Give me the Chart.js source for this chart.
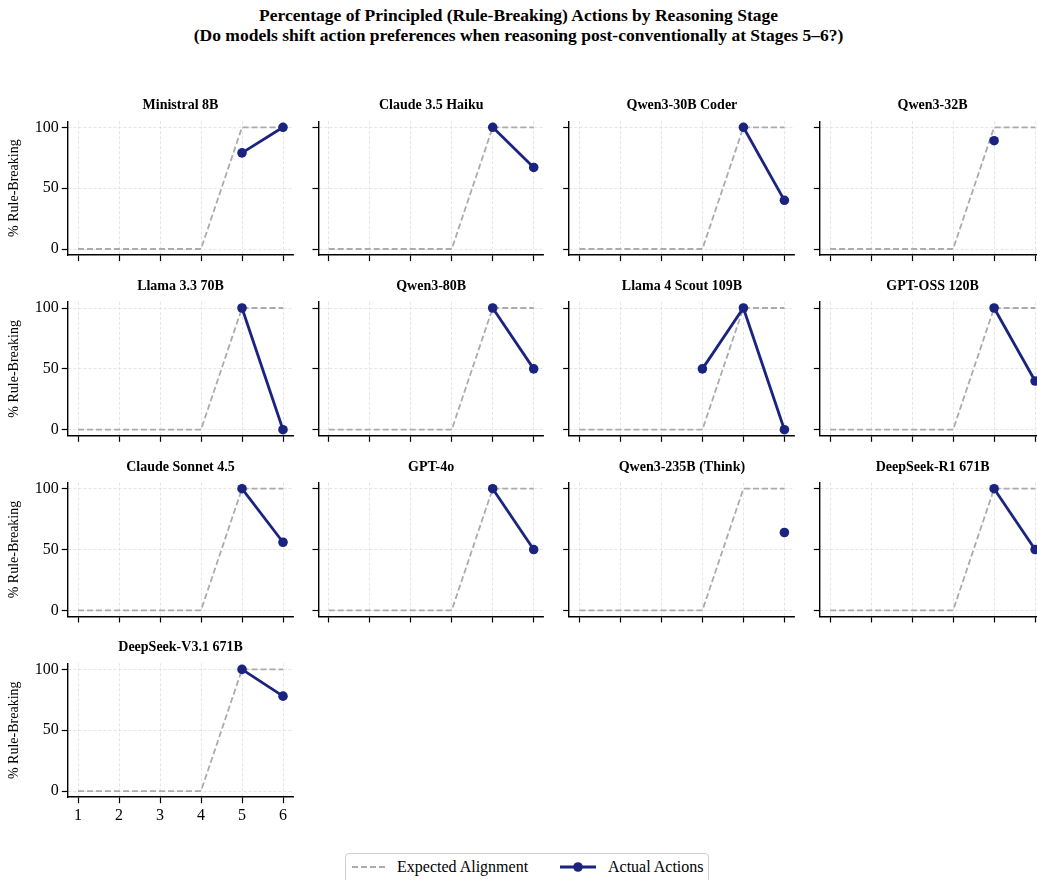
<!DOCTYPE html>
<html><head><meta charset="utf-8">
<script src="https://cdn.jsdelivr.net/npm/chart.js@4"></script>
<style>
body{margin:0;width:1037px;height:880px;overflow:hidden;background:#fff;position:relative;font-family:'Liberation Serif','Times New Roman',serif;color:#000}
#sup{position:absolute;left:0;width:1037px;top:5px;text-align:center;font-weight:bold;font-size:17.5px;line-height:20px}
canvas{position:absolute}
#legend{position:absolute;left:345px;top:853px;width:364px;height:34px;border:1px solid #cfcfcf;border-radius:4px;box-sizing:border-box;background:#fff}
.lt{position:absolute;top:3px;font-size:16px;line-height:20px;white-space:nowrap}
svg{position:absolute}
</style></head><body>
<div id="sup">Percentage of Principled (Rule-Breaking) Actions by Reasoning Stage<br>(Do models shift action preferences when reasoning post-conventionally at Stages 5–6?)</div>
<div id="legend">
<svg style="left:5px;top:7px" width="36" height="12"><line x1="1" y1="6" x2="35" y2="6" stroke="#ababab" stroke-width="1.8" stroke-dasharray="6,3"/></svg>
<span class="lt" style="left:51px">Expected Alignment</span>
<svg style="left:213px;top:7px" width="38" height="12"><line x1="1" y1="6" x2="37" y2="6" stroke="#1a237e" stroke-width="2.8"/><circle cx="19" cy="6" r="4.8" fill="#1a237e"/></svg>
<span class="lt" style="left:262px">Actual Actions</span>
</div>
<script>
const stages = [1, 2, 3, 4, 5, 6];
const xTickValues = [1, 2, 3, 4, 5, 6];
const yTickValues = [0, 50, 100];
const expected = [0, 0, 0, 0, 100, 100];
const modelNames = ["Ministral 8B", "Claude 3.5 Haiku", "Qwen3-30B Coder", "Qwen3-32B",
  "Llama 3.3 70B", "Qwen3-80B", "Llama 4 Scout 109B", "GPT-OSS 120B",
  "Claude Sonnet 4.5", "GPT-4o", "Qwen3-235B (Think)", "DeepSeek-R1 671B",
  "DeepSeek-V3.1 671B"];
const ministral8B   = [null, null, null, null, 79, 100];
const claude35Haiku = [null, null, null, null, 100, 67];
const qwen330Coder  = [null, null, null, null, 100, 40];
const qwen332       = [null, null, null, null, 89, null];
const llama3370     = [null, null, null, null, 100, 0];
const qwen380       = [null, null, null, null, 100, 50];
const llama4Scout   = [null, null, null, 50, 100, 0];
const gptOss120     = [null, null, null, null, 100, 40];
const claudeSonnet  = [null, null, null, null, 100, 56];
const gpt4o         = [null, null, null, null, 100, 50];
const qwen3235Think = [null, null, null, null, null, 64];
const deepseekR1    = [null, null, null, null, 100, 50];
const deepseekV31   = [null, null, null, null, 100, 78];
const actualSeries = [ministral8B, claude35Haiku, qwen330Coder, qwen332, llama3370, qwen380,
  llama4Scout, gptOss120, claudeSonnet, gpt4o, qwen3235Think, deepseekR1, deepseekV31];

const NAVY = '#1a237e', GRAY = '#ababab';
const FONT = "'Liberation Serif','Times New Roman',serif";

const panelTitle = {
  id: 'panelTitle',
  afterDraw(chart, args, opts) {
    const {ctx, chartArea} = chart;
    ctx.save();
    ctx.font = 'bold 14px ' + FONT;
    ctx.fillStyle = '#000';
    ctx.textAlign = 'center';
    ctx.textBaseline = 'middle';
    ctx.fillText(opts.text, (chartArea.left + chartArea.right) / 2, chartArea.top - 15.5);
    ctx.restore();
  }
};

modelNames.forEach((name, i) => {
  const c = i % 4, r = Math.floor(i / 4);
  const areaLeft = 78 + 250.7 * c - 10.25, areaW = 225.5;
  const areaTop = 127.3 + 180.7 * r - 6.085, areaH = 133.87;
  const cl = Math.floor(areaLeft) - 68, ct = Math.floor(areaTop) - 40;
  const W = 310, H = 210;
  const yW = areaLeft - cl, padTop = areaTop - ct, padRight = W - yW - areaW, xH = H - padTop - areaH;
  const cv = document.createElement('canvas');
  cv.width = W; cv.height = H;
  cv.style.left = cl + 'px'; cv.style.top = ct + 'px';
  cv.style.width = W + 'px'; cv.style.height = H + 'px';
  document.body.appendChild(cv);
  const showY = c === 0, showX = i === modelNames.length - 1;
  new Chart(cv, {
    type: 'line',
    data: {
      datasets: [
        { label: 'Actual Actions', data: stages.map((s, k) => ({x: s, y: actualSeries[i][k]})),
          borderColor: NAVY, backgroundColor: NAVY, borderWidth: 2.8, pointRadius: 4.8,
          pointBackgroundColor: NAVY, pointBorderWidth: 0, spanGaps: false, tension: 0 },
        { label: 'Expected Alignment', data: stages.map((s, k) => ({x: s, y: expected[k]})),
          borderColor: GRAY, borderWidth: 1.8, borderDash: [6, 3], pointRadius: 0, tension: 0 }
      ]
    },
    options: {
      responsive: false, animation: false, devicePixelRatio: 1,
      layout: { padding: { left: 0, top: padTop, right: padRight, bottom: 0 } },
      plugins: { legend: { display: false }, tooltip: { enabled: false }, panelTitle: { text: name } },
      scales: {
        x: {
          type: 'linear', min: 0.75, max: 6.25,
          afterBuildTicks: s => { s.ticks = xTickValues.map(v => ({value: v})); },
          afterFit: s => { s.height = xH; s.paddingLeft = 0; s.paddingRight = 0; },
          grid: { color: '#dedede', lineWidth: 0.8, tickColor: '#000', tickLength: 6, tickWidth: 1.2 },
          border: { display: true, color: '#000', width: 1.4, dash: [3, 2] },
          ticks: { display: showX, color: '#000', font: { family: FONT, size: 16 }, padding: 3, maxRotation: 0 }
        },
        y: {
          type: 'linear', min: -5, max: 105,
          afterBuildTicks: s => { s.ticks = yTickValues.map(v => ({value: v})); },
          afterFit: s => { s.width = yW; s.paddingTop = 0; s.paddingBottom = 0; },
          grid: { color: '#dedede', lineWidth: 0.8, tickColor: '#000', tickLength: 6, tickWidth: 1.2 },
          border: { display: true, color: '#000', width: 1.4, dash: [3, 2] },
          ticks: { display: showY, color: '#000', font: { family: FONT, size: 16 }, padding: 3 },
          title: { display: showY, text: '% Rule-Breaking', color: '#000', font: { family: FONT, size: 14 }, padding: { top: 7 } }
        }
      }
    },
    plugins: [panelTitle]
  });
});
</script>
</body></html>
